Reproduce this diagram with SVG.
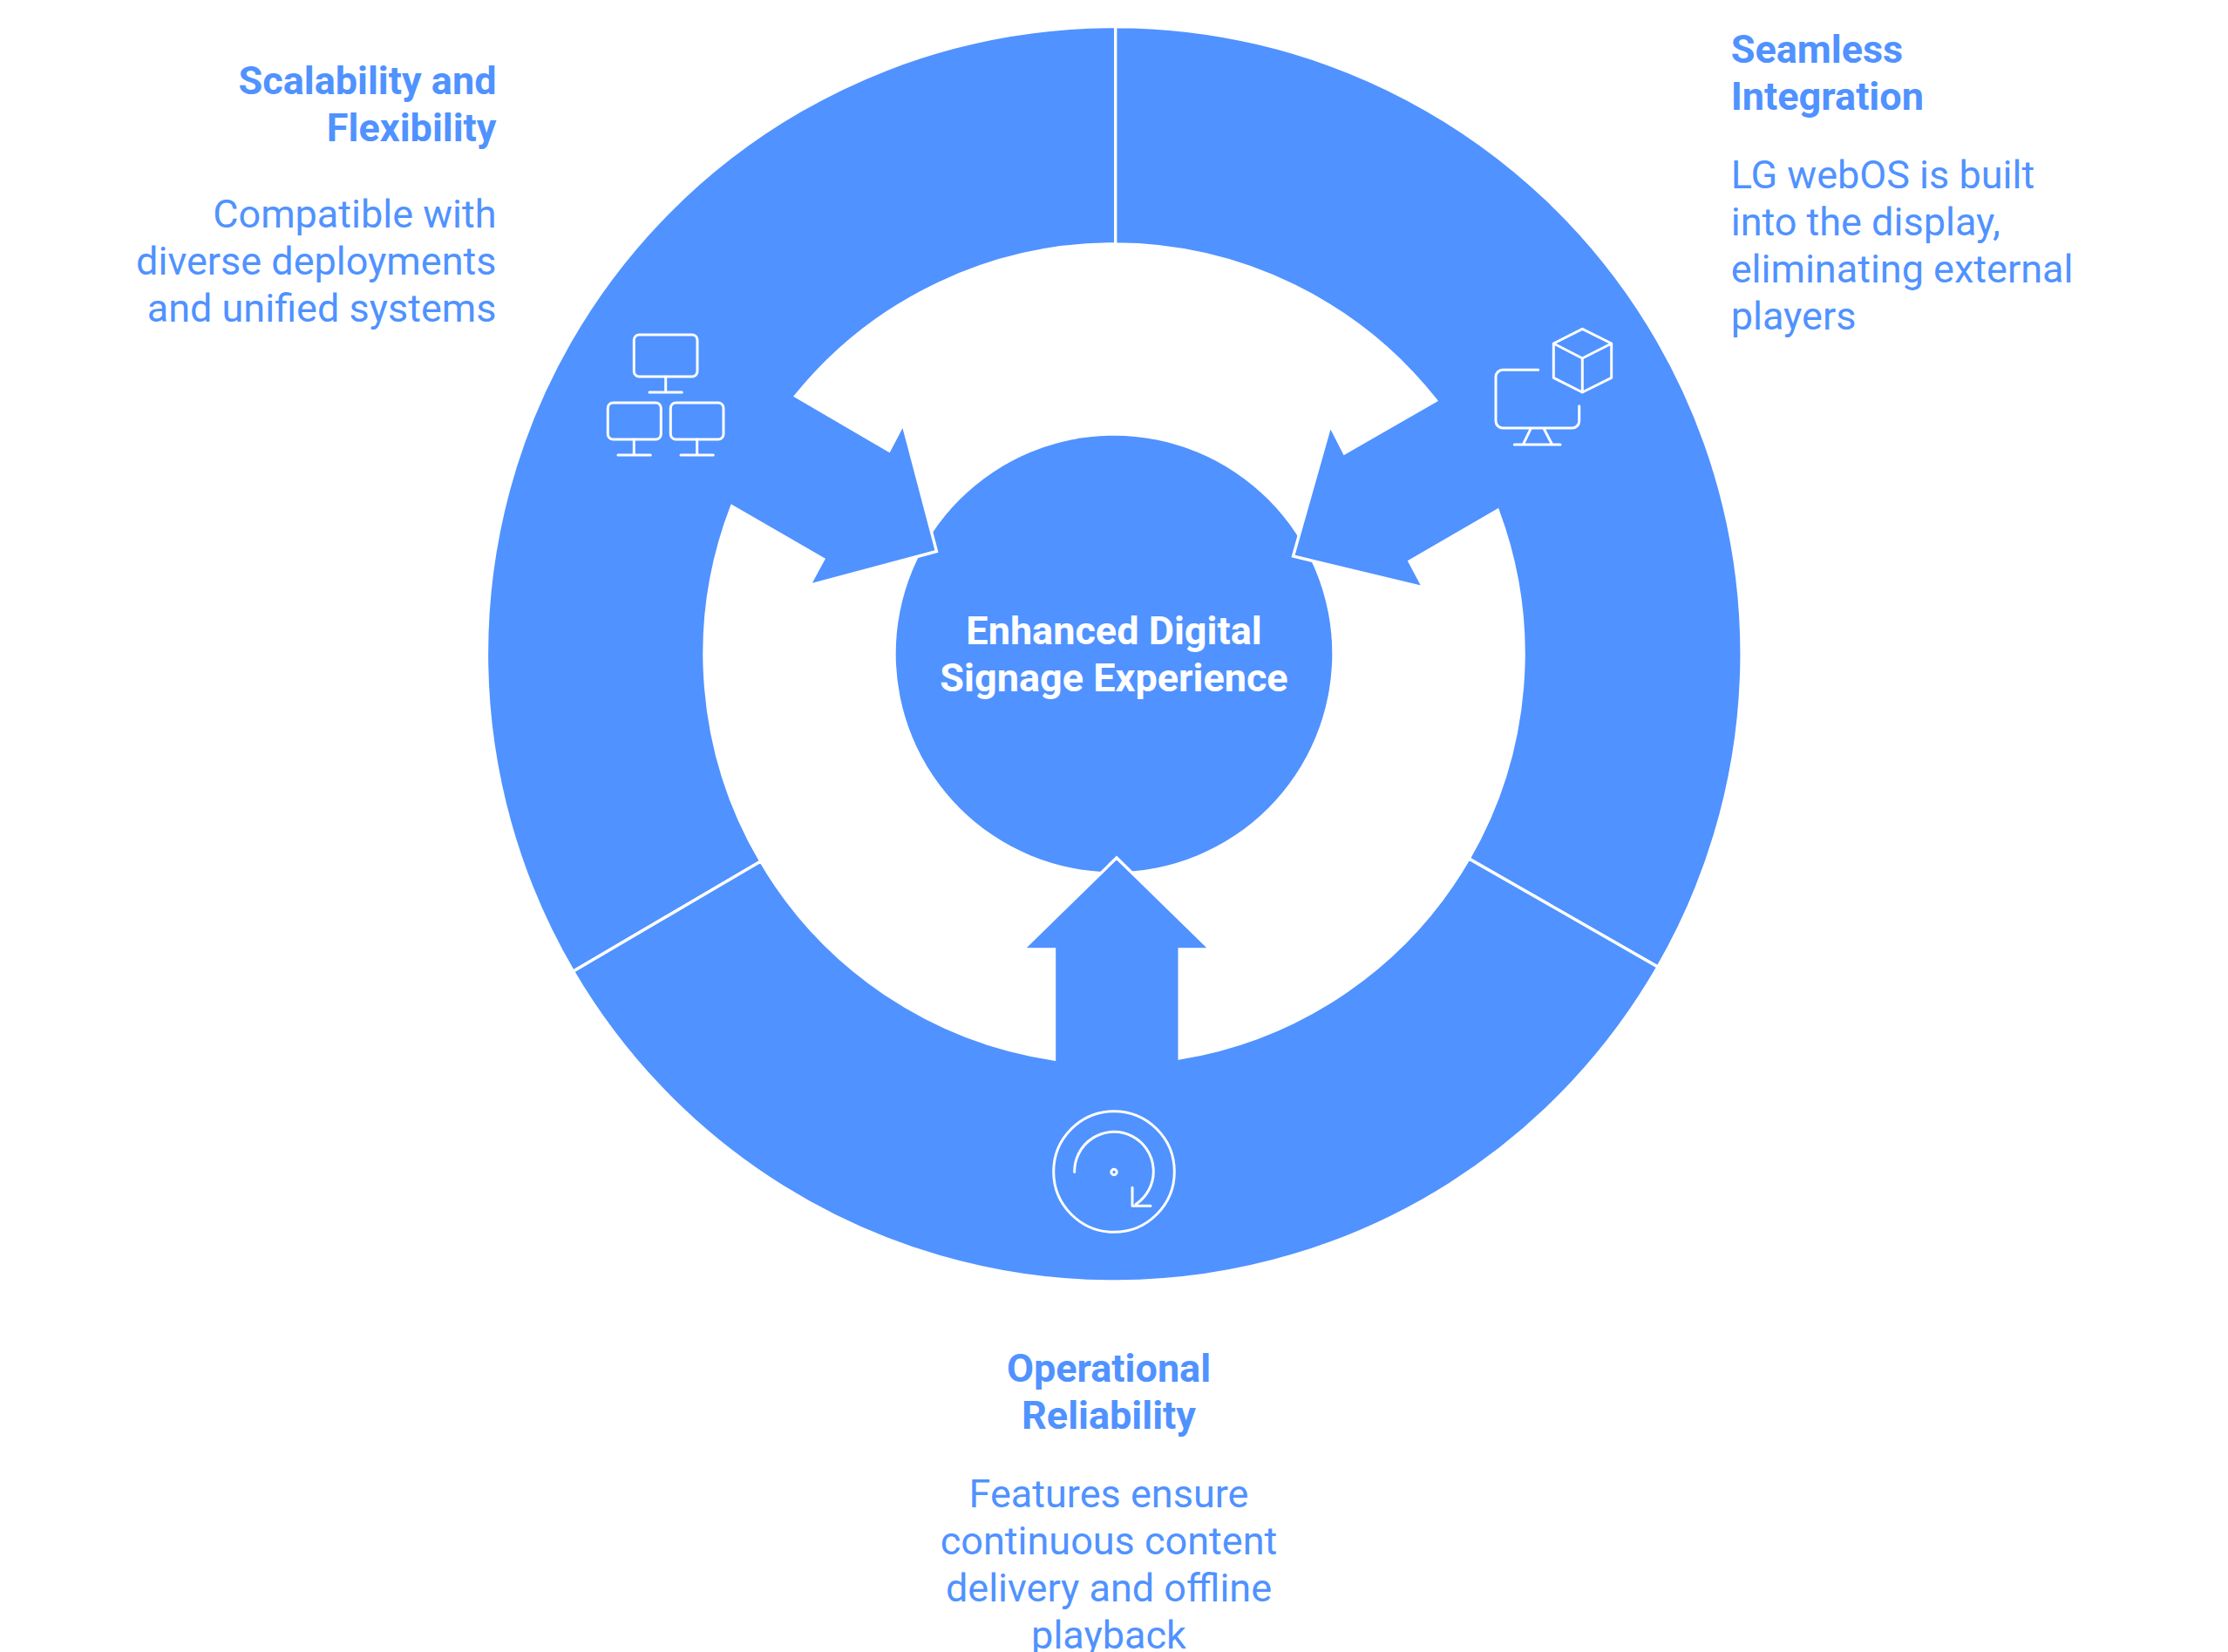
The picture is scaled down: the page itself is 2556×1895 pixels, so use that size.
<svg xmlns="http://www.w3.org/2000/svg" width="2556" height="1895" viewBox="0 0 2556 1895">
<style>
.seg{fill:#5092ff;stroke:#fff;stroke-width:3.4;stroke-linejoin:miter}
.ic{fill:none;stroke:#fff;stroke-width:3;stroke-linecap:round;stroke-linejoin:round}
text{font-family:Roboto,"Liberation Sans",sans-serif;font-size:45px;fill:#5092ff}
.h{font-weight:700}
.c{fill:#fff;text-anchor:middle;font-weight:700}
.r{text-anchor:end}
.m{text-anchor:middle}
</style>
<rect width="2556" height="1895" fill="#fff"/>
<g id="center"><circle cx="1278" cy="750" r="250.3" fill="#5092ff"/>
<text class="c" x="1278" y="738.5">Enhanced Digital</text>
<text class="c" x="1278" y="792.5">Signage Experience</text></g>
<g id="node-scalability">
<path class="seg" d="M1279.7 30.5A719.5 719.5 0 0 0 657.5 1114.3L872.7 988A470 470 0 0 1 839.6 580.7L944.7 641.5L928.5 671.5L1074.5 632.5L1036 486.5L1020 517L912.6 454.4A470 470 0 0 1 1279.7 280Z"/>
<g class="ic"><rect x="727.3" y="384" width="72.7" height="48" rx="6"/><path d="M763.7 432V450M745 450H782.3"/><rect x="697.3" y="462" width="61" height="42" rx="6"/><path d="M727.3 504V522M709 522H746.3"/><rect x="769.3" y="462" width="60.7" height="42" rx="6"/><path d="M799.7 504V522M781 522H818.3"/></g>
<text class="h r" x="569.5" y="108">Scalability and</text><text class="h r" x="569.5" y="162">Flexibility</text>
<text class="r" x="569.5" y="260.5">Compatible with</text><text class="r" x="569.5" y="314.5">diverse deployments</text><text class="r" x="569.5" y="368.5">and unified systems</text>
</g>
<g id="node-integration">
<path class="seg" d="M1279.7 30.5A719.5 719.5 0 0 1 1902 1109.2L1685.1 984.9A470 470 0 0 0 1718.2 585.3L1617 643.8L1633 674L1483.5 638L1526 488L1542.3 519.8L1647.4 459.4A470 470 0 0 0 1279.7 280Z"/>
<g class="ic"><path d="M1764.7 424.3H1724A8 8 0 0 0 1716 432.3V483A8 8 0 0 0 1724 491H1803.7A8 8 0 0 0 1811.7 483V465.7M1755.7 492.7L1747.3 510M1771.7 492.7L1780.7 510M1737.3 510H1790"/><path d="M1815.3 377.3L1848.7 394V433.3L1815.3 450L1782.3 433.3V394ZM1782.3 394L1815.3 411L1848.7 394M1815.3 411V450"/></g>
<text class="h" x="1985.7" y="72">Seamless</text><text class="h" x="1985.7" y="126">Integration</text>
<text x="1985.7" y="216">LG webOS is built</text><text x="1985.7" y="270">into the display,</text><text x="1985.7" y="324">eliminating external</text><text x="1985.7" y="378">players</text>
</g>
<g id="node-reliability">
<path class="seg" d="M657.5 1114.3A719.5 719.5 0 0 0 1902 1109.2L1685.1 984.9A470 470 0 0 1 1353.2 1213.9V1089H1388.5L1281 984L1173.5 1089H1209.5V1215A470 470 0 0 1 872.7 988Z"/>
<g class="ic"><circle cx="1278" cy="1344" r="69.3"/><circle cx="1278" cy="1344.5" r="3.2"/><path d="M1232.7 1344.5A45.3 45.3 0 1 1 1303.3 1381.2M1299 1362.2V1383.2H1320"/></g>
<text class="h m" x="1272" y="1584.5">Operational</text><text class="h m" x="1272" y="1638.5">Reliability</text>
<text class="m" x="1272" y="1728.5">Features ensure</text><text class="m" x="1272" y="1782.5">continuous content</text><text class="m" x="1272" y="1836.5">delivery and offline</text><text class="m" x="1272" y="1890.5">playback</text>
</g>
</svg>
